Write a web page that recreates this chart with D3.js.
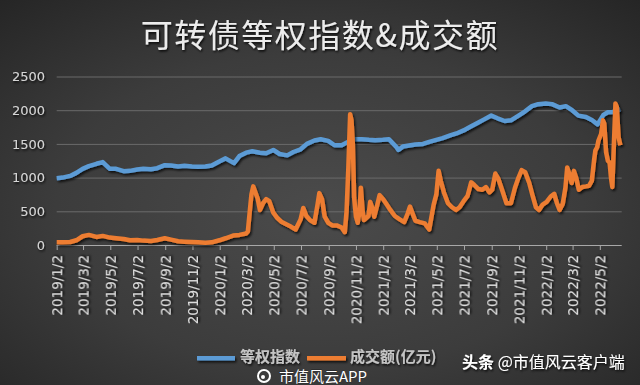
<!DOCTYPE html>
<html><head><meta charset="utf-8">
<script src="https://cdn.jsdelivr.net/npm/d3@7"></script>
<style>html,body{margin:0;padding:0;background:#333;}svg{display:block;}</style>
</head><body>
<svg id="chart" width="640" height="385"></svg>
<script>
const titleText = "可转债等权指数&成交额";
const seriesNames = ["等权指数", "成交额(亿元)"];
const yTicks = [0, 500, 1000, 1500, 2000, 2500];
const xTickLabels = ["2019/1/2","2019/3/2","2019/5/2","2019/7/2","2019/9/2","2019/11/2",
  "2020/1/2","2020/3/2","2020/5/2","2020/7/2","2020/9/2","2020/11/2",
  "2021/1/2","2021/3/2","2021/5/2","2021/7/2","2021/9/2","2021/11/2",
  "2022/1/2","2022/3/2","2022/5/2"];

const indexDates = ["2019-01-02","2019-01-15","2019-02-01","2019-02-15","2019-03-01","2019-03-15","2019-04-01","2019-04-15",
  "2019-05-01","2019-05-15","2019-06-01","2019-06-15","2019-07-01","2019-07-15","2019-08-01","2019-08-15",
  "2019-09-01","2019-09-15","2019-10-01","2019-10-15","2019-11-01","2019-11-15","2019-12-01","2019-12-15",
  "2020-01-01","2020-01-15","2020-02-03","2020-02-15","2020-03-01","2020-03-15","2020-04-01","2020-04-15",
  "2020-05-01","2020-05-15","2020-06-01","2020-06-15","2020-07-01","2020-07-15","2020-08-01","2020-08-15",
  "2020-09-01","2020-09-15","2020-10-01","2020-10-15","2020-11-01","2020-11-15","2020-12-01","2020-12-15",
  "2021-01-01","2021-01-15","2021-02-01","2021-02-05","2021-02-15","2021-03-01","2021-03-15","2021-04-01","2021-04-15",
  "2021-05-01","2021-05-15","2021-06-01","2021-06-15","2021-07-01","2021-07-15","2021-08-01","2021-08-15",
  "2021-09-01","2021-09-15","2021-10-01","2021-10-15","2021-11-01","2021-11-15","2021-12-01","2021-12-15",
  "2022-01-01","2022-01-15","2022-02-01","2022-02-15","2022-03-01","2022-03-15","2022-04-01","2022-04-15",
  "2022-04-27","2022-05-10","2022-05-20","2022-06-01","2022-06-10","2022-06-17"];
const indexValues = [990,1000,1025,1070,1130,1170,1205,1230,
  1130,1130,1095,1100,1120,1130,1125,1140,
  1185,1180,1165,1175,1165,1160,1165,1180,
  1240,1285,1215,1320,1370,1390,1370,1360,
  1410,1350,1330,1380,1420,1500,1550,1570,
  1545,1480,1480,1530,1570,1570,1560,1555,
  1560,1570,1450,1410,1460,1475,1490,1500,1530,
  1560,1585,1625,1655,1700,1750,1810,1860,
  1920,1880,1840,1850,1920,1980,2060,2090,
  2100,2090,2040,2060,2000,1920,1900,1850,
  1790,1930,1970,1975,2000,2010];

const amountDates = ["2019-01-02","2019-01-15","2019-02-01","2019-02-15","2019-03-01","2019-03-15","2019-04-01","2019-04-15",
  "2019-05-01","2019-05-15","2019-06-01","2019-06-15","2019-07-01","2019-07-15","2019-08-01","2019-08-15",
  "2019-09-01","2019-09-15","2019-10-01","2019-10-15","2019-11-01","2019-11-15","2019-12-01","2019-12-15",
  "2020-01-01","2020-01-15","2020-02-01","2020-02-15","2020-03-01","2020-03-05","2020-03-09","2020-03-13",
  "2020-03-17","2020-03-22","2020-03-27","2020-04-01","2020-04-08","2020-04-15","2020-04-22","2020-05-01",
  "2020-05-10","2020-05-20","2020-06-01","2020-06-10","2020-06-20","2020-07-01","2020-07-07","2020-07-14",
  "2020-07-22","2020-08-01","2020-08-08","2020-08-12","2020-08-18","2020-08-24","2020-09-01","2020-09-10",
  "2020-09-20","2020-10-01","2020-10-08","2020-10-12","2020-10-16","2020-10-20","2020-10-23","2020-10-26",
  "2020-10-29","2020-11-02","2020-11-06","2020-11-10","2020-11-13","2020-11-17","2020-11-20","2020-11-25",
  "2020-11-30","2020-12-04","2020-12-08","2020-12-13","2020-12-20","2020-12-25","2021-01-02","2021-01-10",
  "2021-01-18","2021-01-28","2021-02-08","2021-02-18","2021-02-26","2021-03-03","2021-03-08","2021-03-15",
  "2021-03-25","2021-04-05","2021-04-15","2021-04-25","2021-05-01","2021-05-06","2021-05-11","2021-05-18",
  "2021-05-27","2021-06-05","2021-06-14","2021-06-22","2021-07-01","2021-07-10","2021-07-18","2021-07-25",
  "2021-08-03","2021-08-12","2021-08-20","2021-08-28","2021-09-03","2021-09-10","2021-09-17","2021-09-26",
  "2021-10-05","2021-10-15","2021-10-24","2021-11-01","2021-11-08","2021-11-16","2021-11-25","2021-12-03",
  "2021-12-10","2021-12-17","2021-12-25","2022-01-03","2022-01-12","2022-01-20","2022-01-26","2022-02-01",
  "2022-02-08","2022-02-14","2022-02-18","2022-02-23","2022-02-28","2022-03-05","2022-03-10","2022-03-16",
  "2022-03-24","2022-04-01","2022-04-08","2022-04-14","2022-04-19","2022-04-22","2022-04-26","2022-04-29",
  "2022-05-05","2022-05-09","2022-05-12","2022-05-16","2022-05-20","2022-05-24","2022-05-27","2022-05-30",
  "2022-06-02","2022-06-06","2022-06-09","2022-06-13","2022-06-17"];
const amountValues = [40,40,45,70,130,150,120,135,
  110,100,90,70,75,65,60,75,
  100,80,55,50,45,40,35,40,
  70,100,140,150,170,200,480,750,
  870,780,690,520,620,680,650,480,
  400,340,300,270,230,380,550,430,
  370,330,600,770,680,420,330,290,
  290,260,190,500,1150,1940,1850,1500,
  700,420,330,500,850,500,370,400,
  430,640,560,420,600,740,680,600,
  520,430,380,340,470,570,480,360,
  340,320,230,600,750,1100,950,780,
  620,560,520,560,650,730,930,890,
  830,820,860,780,820,1060,980,800,
  620,620,850,1000,1110,1080,920,720,
  560,520,600,640,720,760,620,520,
  610,850,1150,1050,920,1100,1000,820,
  860,870,880,950,1250,1400,1450,1550,
  1650,1850,1800,1380,1250,1220,1000,860,
  1400,2100,2050,1600,1480];

const parse = d3.timeParse("%Y-%m-%d");
const parseTick = d3.timeParse("%Y/%m/%d");
const W = 640, H = 385;
const svg = d3.select("#chart");
const defs = svg.append("defs");

const bg = defs.append("radialGradient").attr("id","bg").attr("cx","50%").attr("cy","55%").attr("r","75%");
bg.append("stop").attr("offset","0%").attr("stop-color","#4b4b4b");
bg.append("stop").attr("offset","55%").attr("stop-color","#3c3c3c");
bg.append("stop").attr("offset","100%").attr("stop-color","#252525");

const sh = defs.append("filter").attr("id","shadow").attr("filterUnits","userSpaceOnUse")
  .attr("x",0).attr("y",0).attr("width",W).attr("height",H);
sh.append("feDropShadow").attr("dx",1.5).attr("dy",2).attr("stdDeviation",1.2).attr("flood-color","#000").attr("flood-opacity",0.7);
const tsh = defs.append("filter").attr("id","tshadow");
tsh.append("feDropShadow").attr("dx",1).attr("dy",1.5).attr("stdDeviation",0.8).attr("flood-color","#000").attr("flood-opacity",0.9);

svg.append("rect").attr("width",W).attr("height",H).attr("fill","url(#bg)");

const x = d3.scaleTime().domain([new Date(2019,0,2), new Date(2022,5,20)]).range([56.7, 621.7]);
const y = d3.scaleLinear().domain([0, 2500]).range([245, 76.5]);

// title
svg.append("text").attr("x", 320).attr("y", 47).attr("text-anchor","middle")
  .attr("font-family","'Noto Sans CJK SC'").attr("font-size",32).attr("font-weight",400)
  .attr("letter-spacing",1.5).attr("fill","#ececec").attr("filter","url(#tshadow)").text(titleText);

// gridlines
svg.append("g").attr("transform","translate(56.7,0)")
  .call(d3.axisLeft(y).tickValues(yTicks.filter(v=>v>0)).tickSize(-(621.7-56.7)).tickFormat(""))
  .call(g=>g.select(".domain").remove())
  .call(g=>g.selectAll("line").attr("stroke","#6b6b6b").attr("stroke-width",1));

// y labels
svg.append("g").attr("transform","translate(45,0)")
  .call(d3.axisLeft(y).tickValues(yTicks).tickSize(0).tickPadding(0).tickFormat(d3.format("d")))
  .call(g=>g.select(".domain").remove())
  .call(g=>g.selectAll("text").attr("font-family","'DejaVu Sans'").attr("font-size",13)
    .attr("fill","#d6d6d6").attr("filter","url(#tshadow)"));

// x axis
const xTicks = xTickLabels.map(s=>parseTick(s));
svg.append("g").attr("transform","translate(0,245)")
  .call(d3.axisBottom(x).tickValues(xTicks).tickSize(5).tickFormat((d,i)=>xTickLabels[i]))
  .call(g=>g.select(".domain").attr("stroke","#a8a8a8").attr("stroke-width",1.2).attr("d","M56.7,0.5H621.7"))
  .call(g=>g.selectAll(".tick line").attr("stroke","#a8a8a8"))
  .call(g=>g.selectAll("text").attr("transform","rotate(-90)").attr("text-anchor","end")
    .attr("x",-10).attr("y",0).attr("dy","0.35em")
    .attr("font-family","'DejaVu Sans'").attr("font-size",13.5).attr("fill","#dcdcdc").attr("filter","url(#tshadow)"));

// lines
const line = d3.line().x(d=>x(d.date)).y(d=>y(d.v));
const indexData = indexDates.map((d,i)=>({date:parse(d), v:indexValues[i]}));
const amountData = amountDates.map((d,i)=>({date:parse(d), v:amountValues[i]}));

svg.append("path").datum(indexData).attr("d",line).attr("fill","none").attr("stroke","#5b9bd5")
  .attr("stroke-width",4.5).attr("stroke-linejoin","round").attr("filter","url(#shadow)");
svg.append("path").datum(amountData).attr("d",line).attr("fill","none").attr("stroke","#ed7d31")
  .attr("stroke-width",4.5).attr("stroke-linejoin","round").attr("filter","url(#shadow)");

// legend
const legend = svg.append("g");
const legendItems = [{name:seriesNames[0], color:"#5b9bd5", x0:197, x1:235, tx:240},
                     {name:seriesNames[1], color:"#ed7d31", x0:307, x1:346, tx:350}];
legendItems.forEach(it=>{
  legend.append("rect").attr("x",it.x0).attr("y",356).attr("width",it.x1-it.x0).attr("height",4.5)
    .attr("fill",it.color).attr("filter","url(#shadow)");
  legend.append("text").attr("x",it.tx).attr("y",362).attr("font-family","'Noto Sans CJK SC'")
    .attr("font-size",15).attr("font-weight",700).attr("fill","#c4c4c4").attr("filter","url(#tshadow)").text(it.name);
});

// watermarks
const wm = svg.append("g");
wm.append("circle").attr("cx",264).attr("cy",376).attr("r",6).attr("fill","none").attr("stroke","#fff").attr("stroke-width",2);
wm.append("circle").attr("cx",263).attr("cy",377).attr("r",2).attr("fill","#fff");
wm.append("text").attr("x",279).attr("y",382).attr("font-family","'Noto Sans CJK SC'").attr("font-size",15)
  .attr("fill","#ffffff").attr("stroke","#222").attr("stroke-width",0.6).attr("paint-order","stroke").text("市值风云APP");
const tt = wm.append("text").attr("x",462).attr("y",368).attr("font-family","'Noto Sans CJK SC'").attr("font-size",16)
  .attr("fill","#ffffff").attr("filter","url(#tshadow)");
tt.append("tspan").attr("font-weight",700).text("头条 ");
tt.append("tspan").text("@市值风云客户端");
</script>
</body></html>
